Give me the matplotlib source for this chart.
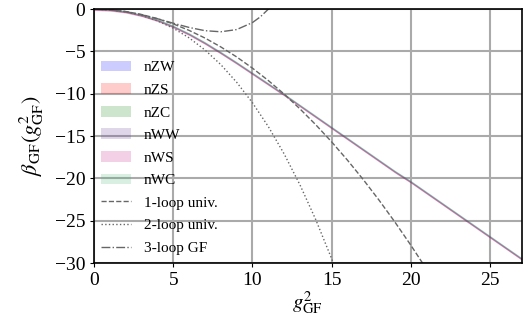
import matplotlib
matplotlib.use("Agg")
import matplotlib.pyplot as plt

plt.rcParams['font.family'] = ['Liberation Serif', 'DejaVu Serif']
plt.rcParams['mathtext.fontset'] = 'stix'
plt.rcParams['axes.unicode_minus'] = True

# band (nonperturbative) central values, shared by the six series
x_band = [0, 1, 2, 3, 4, 5, 6, 7, 8, 9, 10, 11, 12, 13, 14, 15, 16, 17, 18,
          19, 20, 21, 22, 23, 24, 25, 26, 27]
y_band = [0, -0.07, -0.3, -0.72, -1.3, -2.05, -2.95, -4.0, -5.15, -6.35, -7.6,
          -8.85, -10.1, -11.4, -12.7, -14.0, -15.3, -16.6, -17.9, -19.2, -20.4,
          -21.7, -23.0, -24.3, -25.6, -26.9, -28.2, -29.5]
series_names = ['nZW', 'nZS', 'nZC', 'nWW', 'nWS', 'nWC']
series_colors = ['blue', 'red', 'green', 'rebeccapurple', 'mediumvioletred', 'mediumseagreen']
series_offset = [0.0, -0.04, 0.04, 0.0, -0.07, 0.07]
series_halfwidth = [0.1, 0.1, 0.1, 0.1, 0.1, 0.1]

# perturbative curves
x_1loop = [0, 1, 2, 3, 4, 5, 6, 7, 8, 9, 10, 11, 12, 13, 14, 15, 16, 17, 18, 19, 20, 21]
y_1loop = [0, -0.07, -0.28, -0.63, -1.12, -1.74, -2.51, -3.41, -4.46, -5.64, -6.97,
           -8.43, -10.03, -11.78, -13.66, -15.68, -17.84, -20.14, -22.58, -25.16, -27.88, -30.74]
x_2loop = [0, 1, 2, 3, 4, 5, 6, 7, 8, 9, 10, 11, 12, 13, 14, 15, 15.5]
y_2loop = [0, -0.07, -0.31, -0.74, -1.38, -2.25, -3.39, -4.82, -6.55, -8.63, -11.06,
           -13.87, -17.10, -20.76, -24.88, -29.48, -31.97]
x_3loop = [0, 1, 2, 3, 4, 5, 6, 7, 8, 9, 10, 10.5, 11, 11.5]
y_3loop = [0, -0.07, -0.30, -0.66, -1.13, -1.66, -2.16, -2.54, -2.67, -2.41, -1.58,
           -0.90, 0.0, 1.14]

fig = plt.figure(figsize=(5.29, 3.28), dpi=100)
ax = fig.add_axes([0.178, 0.198, 0.808, 0.774])

for name, col, off, hw in zip(series_names, series_colors, series_offset, series_halfwidth):
    lo = [v + off - hw for v in y_band]
    hi = [v + off + hw for v in y_band]
    ax.fill_between(x_band, lo, hi, color=col, alpha=0.2, linewidth=0, label=name)

lc = '0.4'
ax.plot(x_1loop, y_1loop, linestyle='--', color=lc, linewidth=1.0, label='1-loop univ.')
ax.plot(x_2loop, y_2loop, linestyle=':', color=lc, linewidth=1.0, label='2-loop univ.')
ax.plot(x_3loop, y_3loop, linestyle='-.', color=lc, linewidth=1.0, label='3-loop GF')

ax.set_xlim(0, 27)
ax.set_ylim(-30, 0)
ax.set_xticks([0, 5, 10, 15, 20, 25])
ax.set_yticks([0, -5, -10, -15, -20, -25, -30])
ax.grid(True, color='#aaaaaa', linewidth=1.5)
ax.set_axisbelow(True)
ax.tick_params(labelsize=14, direction='out', length=3)
for s in ax.spines.values():
    s.set_linewidth(1.2)

ax.set_xlabel(r'$g^2_{\rm GF}$', fontsize=15, labelpad=0)
ax.set_ylabel(r'$\beta_{\rm GF}(g^2_{\rm GF})$', fontsize=16, labelpad=6)

ax.legend(loc='upper left', bbox_to_anchor=(-0.006, 0.833), frameon=False,
          fontsize=11, handlelength=2.0, labelspacing=0.58, borderaxespad=0.2,
          handletextpad=0.8)

fig.savefig('out.png', dpi=100)
